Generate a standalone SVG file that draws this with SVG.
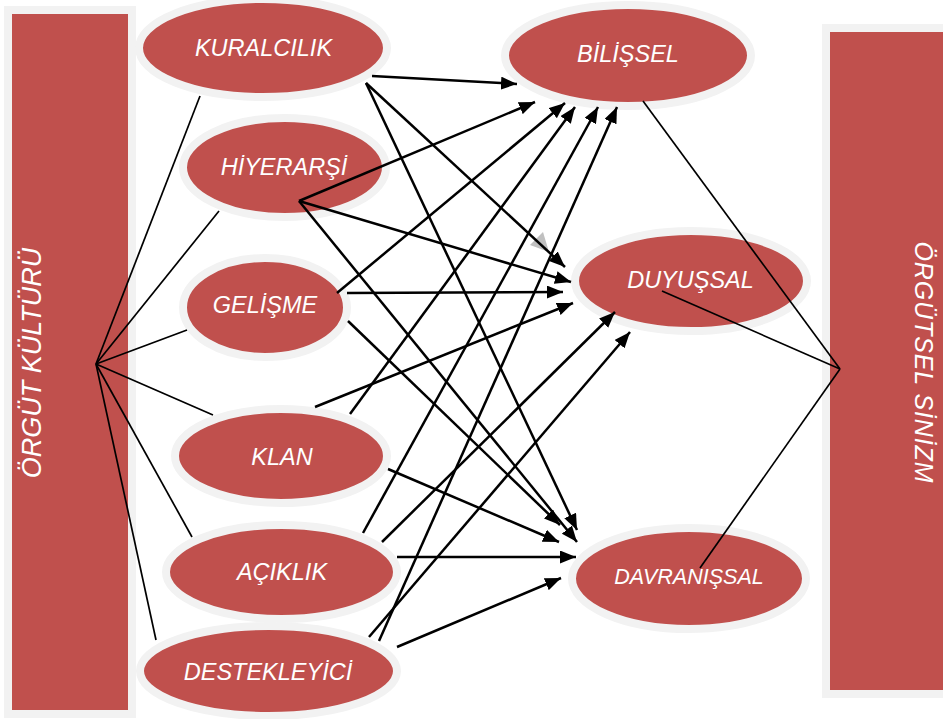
<svg xmlns="http://www.w3.org/2000/svg" width="943" height="719" viewBox="0 0 943 719">
<style>
.bar{fill:#c0504d;stroke:#f2f2f2;stroke-width:8}
.nd ellipse{fill:#c0504d;stroke:#f2f2f2;stroke-width:8}
.nd text{font-family:"Liberation Sans",Arial,sans-serif;font-style:italic;font-size:23.5px;fill:#fff;text-anchor:middle}
.bt{font-family:"Liberation Sans",Arial,sans-serif;font-style:italic;fill:#fff;text-anchor:middle}
.l{stroke:#000;stroke-width:1.7;fill:none}
.a{stroke:#000;stroke-width:2.5;fill:none;marker-end:url(#ah)}
</style>
<defs>
<marker id="ah" markerUnits="userSpaceOnUse" markerWidth="16" markerHeight="13" refX="16" refY="6.5" orient="auto">
<path d="M0,0 L16,6.5 L0,13 z" fill="#000"/>
</marker>
</defs>
<rect width="943" height="719" fill="#fff"/>
<g id="orgut-kulturu">
<rect class="bar" x="8" y="10" width="124" height="704"/>
<text class="bt" font-size="27" transform="translate(41,363) rotate(-90)">ÖRGÜT KÜLTÜRÜ</text>
</g>
<g id="orgutsel-sinizm">
<rect class="bar" x="826" y="28" width="125" height="666"/>
<text class="bt" font-size="25" textLength="241" lengthAdjust="spacing" transform="translate(915,362) rotate(90)">ÖRGÜTSEL SİNİZM</text>
</g>
<g id="kuralcilik" class="nd"><ellipse cx="263" cy="48" rx="124" ry="49"/><text x="263.5" y="56">KURALCILIK</text></g>
<g id="hiyerarsi" class="nd"><ellipse cx="284.5" cy="167.5" rx="101.5" ry="49.5"/><text x="284" y="175">HİYERARŞİ</text></g>
<g id="gelisme" class="nd"><ellipse cx="265" cy="307.5" rx="82" ry="49.5"/><text x="265" y="313">GELİŞME</text></g>
<g id="klan" class="nd"><ellipse cx="281" cy="456" rx="106" ry="47"/><text x="282" y="465">KLAN</text></g>
<g id="aciklik" class="nd"><ellipse cx="281.5" cy="572" rx="115.5" ry="47"/><text x="282" y="580">AÇIKLIK</text></g>
<g id="destekleyici" class="nd"><ellipse cx="268.5" cy="671" rx="128.5" ry="45"/><text x="268" y="680">DESTEKLEYİCİ</text></g>
<g id="bilissel" class="nd"><ellipse cx="628" cy="55.5" rx="123" ry="50.5"/><text x="628" y="62">BİLİŞSEL</text></g>
<g id="duyussal" class="nd"><ellipse cx="691" cy="281" rx="116" ry="50"/><text x="690.5" y="288">DUYUŞSAL</text></g>
<g id="davranissal" class="nd"><ellipse cx="689" cy="578.5" rx="117" ry="50.5"/><text x="689" y="584" style="font-size:21.5px">DAVRANIŞSAL</text></g>
<g id="connectors">
<line class="l" x1="96" y1="364" x2="200" y2="96"/>
<line class="l" x1="96" y1="364" x2="219" y2="211"/>
<line class="l" x1="96" y1="364" x2="187" y2="330"/>
<line class="l" x1="96" y1="364" x2="213" y2="415"/>
<line class="l" x1="96" y1="364" x2="192" y2="537"/>
<line class="l" x1="96" y1="364" x2="156" y2="640"/>
<line class="l" x1="840" y1="369" x2="643" y2="101"/>
<line class="l" x1="840" y1="369" x2="662" y2="291"/>
<line class="l" x1="840" y1="369" x2="700" y2="568"/>
<polygon points="543,232 530,245 549,252" fill="#c0c0c0"/>
<line class="a" x1="372" y1="76" x2="517" y2="84"/>
<line class="a" x1="366" y1="83" x2="565" y2="267"/>
<line class="a" x1="366" y1="83" x2="577" y2="530"/>
<line class="a" x1="299" y1="201" x2="535" y2="102"/>
<line class="a" x1="299" y1="201" x2="571" y2="282"/>
<line class="a" x1="299" y1="201" x2="577" y2="542"/>
<line class="a" x1="337" y1="293" x2="565" y2="103"/>
<line class="a" x1="347" y1="293" x2="563" y2="292"/>
<line class="a" x1="348" y1="321" x2="560" y2="525"/>
<line class="a" x1="350" y1="414" x2="575" y2="107"/>
<line class="a" x1="315" y1="407" x2="573" y2="303"/>
<line class="a" x1="388" y1="469" x2="559" y2="542"/>
<line class="a" x1="363" y1="533" x2="598" y2="107"/>
<line class="a" x1="382" y1="542" x2="615" y2="312"/>
<line class="a" x1="397" y1="557" x2="576" y2="557"/>
<line class="a" x1="379" y1="641" x2="617" y2="107"/>
<line class="a" x1="369" y1="637" x2="630" y2="332"/>
<line class="a" x1="397" y1="647" x2="561" y2="578"/>
</g>
</svg>
